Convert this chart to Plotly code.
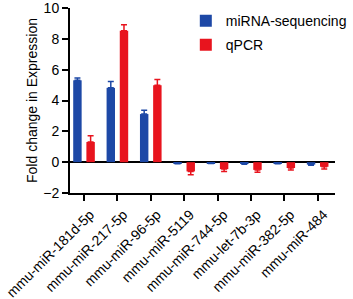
import plotly.graph_objects as go

categories = ["mmu-miR-181d-5p", "mmu-miR-217-5p", "mmu-miR-96-5p", "mmu-miR-5119",
              "mmu-miR-744-5p", "mmu-let-7b-3p", "mmu-miR-382-5p", "mmu-miR-484"]
seq_values = [5.31, 4.82, 3.12, -0.08, -0.06, -0.10, -0.08, -0.16]
seq_errors = [0.15, 0.42, 0.25, 0.02, 0.02, 0.03, 0.02, 0.04]
qpcr_values = [1.31, 8.52, 4.99, -0.60, -0.45, -0.50, -0.38, -0.30]
qpcr_errors = [0.40, 0.40, 0.38, 0.22, 0.15, 0.16, 0.12, 0.15]
y_ticks = [-2, 0, 2, 4, 6, 8, 10]

BLUE = "#1d48a6"
RED = "#e8141e"


def one_sided(values, errors):
    up = [e if v >= 0 else 0 for v, e in zip(values, errors)]
    down = [e if v < 0 else 0 for v, e in zip(values, errors)]
    return up, down


fig = go.Figure()
for name, vals, errs, col in [("miRNA-sequencing", seq_values, seq_errors, BLUE),
                              ("qPCR", qpcr_values, qpcr_errors, RED)]:
    up, down = one_sided(vals, errs)
    fig.add_trace(go.Bar(
        name=name, x=categories, y=vals, legendgroup=name,
        marker=dict(color=col, line=dict(width=0)),
        error_y=dict(type="data", symmetric=False, array=up, arrayminus=down,
                     color=col, thickness=1.5, width=3),
    ))

fig.update_layout(
    width=353, height=299,
    margin=dict(l=70, r=1, t=8, b=106),
    paper_bgcolor="white", plot_bgcolor="white",
    barmode="group", bargap=0.21, bargroupgap=0.36,
    font=dict(family="Liberation Sans, Arial, sans-serif", size=14, color="black"),
    showlegend=True,
    legend=dict(x=0.437, y=1.016, xanchor="left", yanchor="top", bgcolor="rgba(0,0,0,0)",
                font=dict(size=14), itemwidth=30, tracegroupgap=3),
    xaxis=dict(range=[-0.42, 7.52], showline=True, linecolor="black", linewidth=2,
               ticks="outside", ticklen=6, tickwidth=2, tickcolor="black",
               tickangle=-45, tickfont=dict(size=14), showgrid=False, zeroline=False,
               automargin=False, ticklabelshift=6, ticklabeloverflow="allow"),
    yaxis=dict(range=[-2, 10], tickvals=y_ticks, showline=True, linecolor="black",
               linewidth=2, ticks="outside", ticklen=6, tickwidth=2, tickcolor="black",
               tickfont=dict(size=14), showgrid=False, ticklabeloverflow="allow",
               zeroline=True, zerolinecolor="black", zerolinewidth=2, automargin=False,
               title=dict(text="Fold change in Expression", font=dict(size=14), standoff=2)),
)

fig.write_html("out.html", post_script="document.body.style.margin='0';",
               config={"displayModeBar": False})
